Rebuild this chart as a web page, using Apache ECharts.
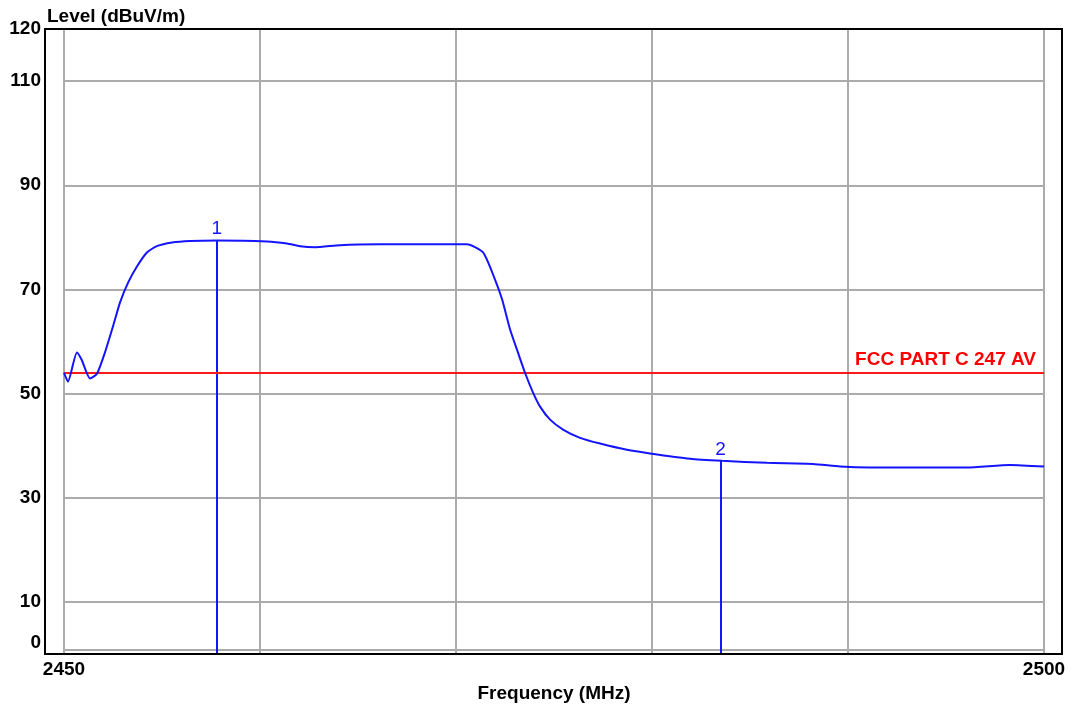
<!DOCTYPE html>
<html>
<head>
<meta charset="utf-8">
<script src="https://cdn.jsdelivr.net/npm/echarts@6/dist/echarts.min.js"></script>
<style>html,body{margin:0;padding:0;background:#fff}#c{width:1071px;height:709px}</style>
</head>
<body>
<div id="c"></div>
<script>
// Data
const freqs  = [2450.0, 2450.2, 2450.66, 2450.9, 2451.33, 2451.68, 2452.09, 2452.5, 2452.86, 2453.27, 2453.72, 2454.23, 2454.74, 2455.51, 2456.43, 2457.81, 2460.36, 2461.38, 2462.04, 2462.81, 2464.08, 2466.12, 2469.18, 2470.56, 2471.38, 2471.99, 2472.35, 2472.76, 2473.16, 2473.52, 2473.93, 2474.29, 2474.8, 2475.46, 2476.33, 2477.35, 2478.72, 2479.9, 2481.94, 2483.57, 2485.87, 2488.21, 2489.59, 2491.12, 2496.07, 2498.27, 2500.0];
const levels = [54.0, 52.3, 57.9, 56.5, 52.9, 53.8, 57.9, 62.9, 67.5, 71.3, 74.4, 77.1, 78.3, 79.0, 79.3, 79.4, 79.2, 78.8, 78.3, 78.1, 78.5, 78.65, 78.65, 78.65, 77.1, 71.9, 68.1, 62.3, 57.9, 54.0, 50.2, 47.5, 45.0, 43.1, 41.5, 40.4, 39.2, 38.5, 37.5, 37.1, 36.7, 36.5, 36.0, 35.8, 35.8, 36.3, 36.0];
const markerFreqs  = [2457.8, 2483.5];
const markerLevels = [79.4, 37.1];
const markerLabels = ['1', '2'];
const limitLevel = 54;
const limitName = 'FCC PART C 247 AV';
const yTickLabels = [0, 10, 30, 50, 70, 90, 110, 120];
const xTickLabels = [2450, 2500];

const FONT = '"Liberation Sans", Arial, sans-serif';
const chart = echarts.init(document.getElementById('c'), null, {renderer: 'canvas'});

const markerLines = markerFreqs.map((f, i) => [
  {coord: [f, 0]},
  {coord: [f, markerLevels[i]], label: {formatter: markerLabels[i]}}
]);

chart.setOption({
  animation: false,
  backgroundColor: '#fff',
  title: {
    text: 'Level (dBuV/m)', left: 42, top: 2,
    textStyle: {fontFamily: FONT, fontWeight: 'bold', fontSize: 19, color: '#000'}
  },
  grid: {left: 64, right: 27, top: 29, bottom: 55, containLabel: false},
  xAxis: {
    type: 'value', min: 2450, max: 2500, interval: 10,
    name: 'Frequency (MHz)', nameLocation: 'middle', nameGap: 29,
    nameTextStyle: {fontFamily: FONT, fontWeight: 'bold', fontSize: 19, color: '#000'},
    axisLine: {show: false}, axisTick: {show: false},
    axisLabel: {
      margin: 6, fontFamily: FONT, fontWeight: 'bold', fontSize: 19, color: '#000',
      formatter: v => xTickLabels.indexOf(v) >= 0 ? String(v) : ''
    },
    splitLine: {show: true, lineStyle: {color: '#ababab', width: 2}}
  },
  yAxis: {
    type: 'value', min: 0, max: 120, interval: 10,
    axisLine: {show: false}, axisTick: {show: false},
    axisLabel: {
      margin: 23, fontFamily: FONT, fontWeight: 'bold', fontSize: 19, color: '#000',
      formatter: v => v === 0 ? '{z|0}' : (yTickLabels.indexOf(v) >= 0 ? String(v) : ''),
      rich: {z: {fontFamily: FONT, fontWeight: 'bold', fontSize: 19, color: '#000', padding: [0, 0, 22, 0]}}
    },
    splitLine: {show: true, lineStyle: {color: ['transparent', '#ababab'], width: 2}}
  },
  series: [{
    type: 'line',
    data: freqs.map((f, i) => [f, levels[i]]),
    showSymbol: false,
    smooth: 0.2,
    lineStyle: {color: '#1414ff', width: 2},
    z: 5,
    markLine: {
      silent: true, symbol: ['none', 'none'],
      lineStyle: {color: '#1414ff', width: 2, type: 'solid'},
      label: {show: true, position: 'end', distance: 2, color: '#1414ff', fontFamily: FONT, fontSize: 19},
      data: markerLines.concat([{
        yAxis: limitLevel,
        lineStyle: {color: '#ff1a1a', width: 2, type: 'solid'},
        label: {show: true, position: 'insideEndTop', formatter: limitName, distance: [8, 3],
                color: '#ff0000', fontFamily: FONT, fontWeight: 'bold', fontSize: 19}
      }])
    }
  }],
  graphic: [{
    type: 'rect', z: 100, silent: true,
    shape: {x: 45, y: 29, width: 1017, height: 625},
    style: {fill: null, stroke: '#000', lineWidth: 2}
  }, {
    type: 'line', z: 1, silent: true,
    shape: {x1: 64, y1: 650, x2: 1044, y2: 650},
    style: {stroke: '#ababab', lineWidth: 2}
  }]
});
</script>
</body>
</html>
